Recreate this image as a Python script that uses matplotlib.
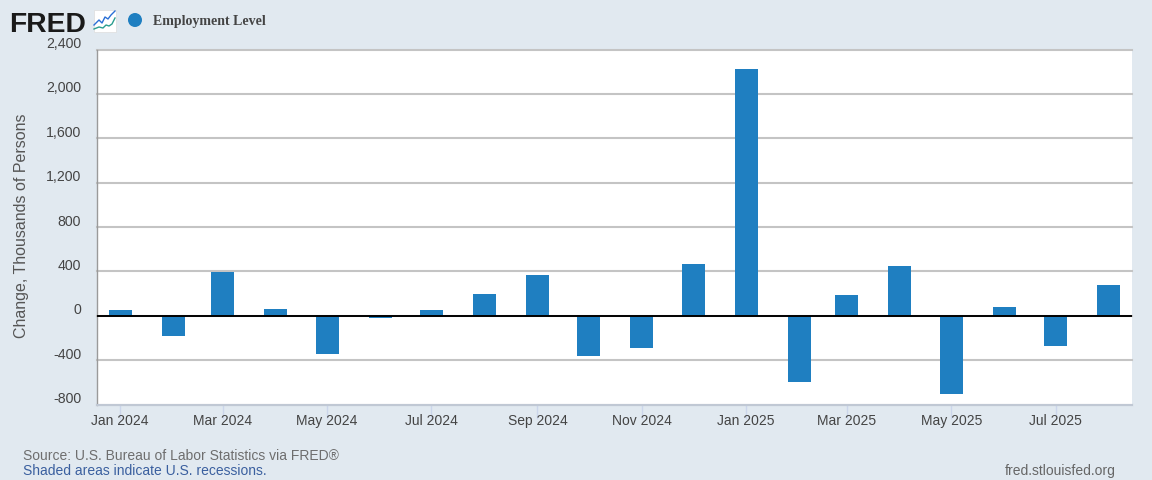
import matplotlib
matplotlib.use("Agg")
import matplotlib.pyplot as plt
import matplotlib.dates as mdates
from matplotlib.patches import Rectangle, Circle
from matplotlib.transforms import ScaledTranslation
import pandas as pd

months = pd.date_range("2024-01-01", "2025-08-01", freq="MS")
values = [55, -187, 398, 63, -345, -20, 50, 198, 370, -365,
          -290, 470, 2225, -595, 190, 450, -708, 80, -270, 280]
y_ticks = [-800, -400, 0, 400, 800, 1200, 1600, 2000, 2400]
x_ticks = ["2024-01-01", "2024-03-01", "2024-05-01", "2024-07-01", "2024-09-01", "2024-11-01",
           "2025-01-01", "2025-03-01", "2025-05-01", "2025-07-01"]
series_name = "Employment Level"
y_title = "Change, Thousands of Persons"
source = "Source: U.S. Bureau of Labor Statistics via FRED®"
shade_note = "Shaded areas indicate U.S. recessions."
site = "fred.stlouisfed.org"

BG = "#e1e9f0"
BAR = "#1f7fc1"
W, H = 1152, 480
plt.rcParams["font.family"] = ["Liberation Sans"]
fig = plt.figure(figsize=(W / 100, H / 100), dpi=100, facecolor=BG)

L, R, T, B = 96.5, 1132, 49.5, 404.5
ax = fig.add_axes([L / W, 1 - B / H, (R - L) / W, (B - T) / H], facecolor="white")
x0 = pd.Timestamp("2024-01-01")
px_per_day = (1055 - 119.5) / (pd.Timestamp("2025-07-01") - x0).days
ax.set_xlim(x0 - pd.Timedelta(days=(120.1 - L) / px_per_day),
            x0 + pd.Timedelta(days=(R - 120.1) / px_per_day))
ax.set_ylim(-800, 2400)

ax.bar(months, values, width=23 / px_per_day, color=BAR, zorder=3)
ax.axhline(0, color="black", lw=1.4, zorder=4)

ax.set_yticks(y_ticks)
ax.set_yticklabels([f"{v:,}" for v in y_ticks], fontsize=10.2, color="#444444")
ax.tick_params(axis="y", length=0, pad=11)
for lab in ax.get_yticklabels():
    lab.set_transform(lab.get_transform() + ScaledTranslation(0, 7 / 100, fig.dpi_scale_trans))
ax.grid(axis="y", color="#c4c4c4", lw=1.5, zorder=1, clip_on=False)
ax.set_axisbelow(True)

ax.set_xticks(pd.to_datetime(x_ticks))
ax.xaxis.set_major_formatter(mdates.DateFormatter("%b %Y"))
ax.tick_params(axis="x", length=10, width=1, color="#ccd6eb", labelsize=10, labelcolor="#444444", pad=-3)

for s in ["top", "right"]:
    ax.spines[s].set_visible(False)
ax.spines["left"].set_color("#9a9a9a")
ax.spines["left"].set_linewidth(1)
ax.spines["bottom"].set_color("#c0c8d4")
ax.spines["bottom"].set_linewidth(1.5)

fig.text(21.5 / W, 1 - 226 / H, y_title, rotation=90, ha="center", va="center", fontsize=11.5, color="#555555")
fig.text(23 / W, 1 - 460 / H, source, fontsize=10, color="#6e6e6e", va="baseline")
fig.text(23 / W, 1 - 475 / H, shade_note, fontsize=10, color="#3a5f9f", va="baseline")
fig.text(1116 / W, 1 - 475 / H, site, fontsize=10, color="#666666", va="baseline", ha="right")

# header
fig.text(9.5 / W, 1 - 32 / H, "FRED", fontsize=20.3, fontweight="bold", color="#1a1a1a", va="baseline")
fig.text(153 / W, 1 - 21.5 / H, series_name, fontsize=10, fontweight="bold", family="Liberation Serif",
         color="#444444", va="center")
ov = fig.add_axes([0, 0, 1, 1], facecolor="none")
ov.set_xlim(0, W); ov.set_ylim(H, 0); ov.axis("off")
ov.add_patch(Rectangle((93.5, 10), 22, 22, fc="white", ec="#dddddd", lw=0.5))
ov.plot([94, 99, 102, 105, 108, 111, 115], [25, 20, 23, 17, 19, 15, 11], color="#2a6fd6", lw=1)
ov.plot([94, 99, 103, 106, 109, 112, 115], [29, 27, 28, 25, 26, 24, 18], color="#2a9d8f", lw=1)
ov.add_patch(Circle((135, 20), 7, fc=BAR, ec="none"))

fig.savefig("out.png", dpi=100, facecolor=BG)
